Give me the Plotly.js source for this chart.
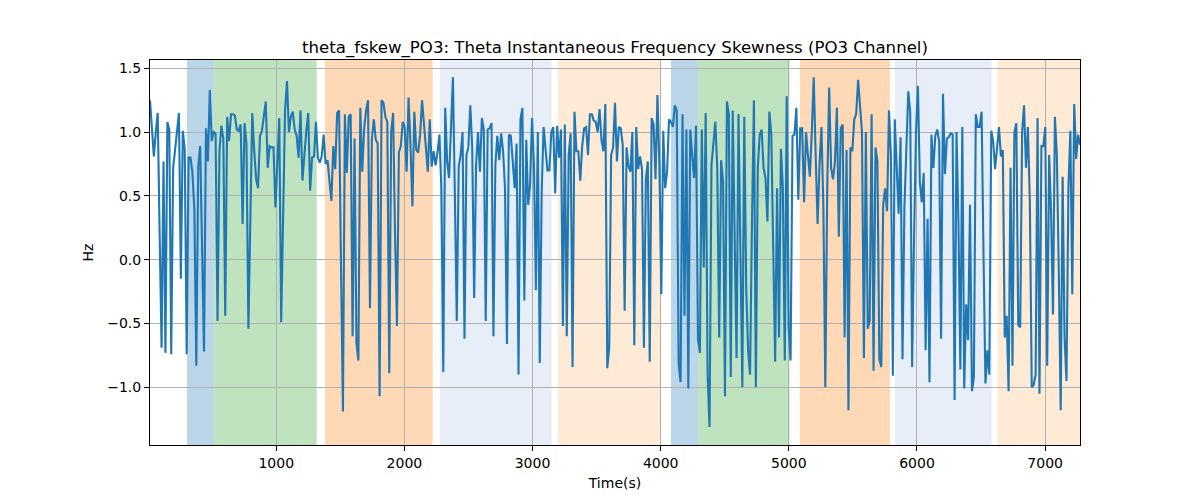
<!DOCTYPE html>
<html>
<head>
<meta charset="utf-8">
<script src="https://cdn.plot.ly/plotly-3.0.1.min.js"></script>
<style>html,body{margin:0;padding:0;background:#fff;}#chart{width:1200px;height:500px;}</style>
</head>
<body>
<div id="chart"></div>
<script>
// Skewness values (Hz), read left to right in consecutive chunks
const skewPart1 = [1.25,1.0,0.81,1.0,1.15,0.2,-0.69,0.77,-0.73,1.08,1.02,-0.74,0.72,0.86,1.0,1.15,-0.15,1.01,0.87,-0.74,0.80,0.80,0.68,0.39,-0.83,0.73,0.89,0.1,-0.72,1.03,0.77,1.33,0.93,1.0,0.99,-0.48,0.85,1.05];
const skewPart2 = [0.95,-0.44,1.12,0.93,1.14,1.14,1.13,1.02,1.01,1.06,0.28,1.07,0.91,-0.54,0.3,1.15,0.86,0.63,0.56,0.97,1.01,1.14,1.24,0.72,0.89,0.88,0.88,0.41,0.75,1.11,-0.49,0.4,1.17,1.40];
const skewPart3 = [1.0,1.12,1.16,1.02,0.97,0.80,1.17,0.62,0.86,1.01,1.15,0.54,0.80,0.81,1.08,0.80,0.76,0.81,0.98,0.75,0.78,0.63,0.46,0.89,0.71,1.15,1.17,-0.05,-1.19,1.14,0.68,1.12,1.14,-0.60,0.95,-0.65,-0.79];
const skewPart4 = [1.19,0.69,1.03,1.17,1.25,-0.38,0.95,1.10,0.94,0.91,-1.07,1.25,1.23,1.12,1.08,-0.89,1.0,1.15,0.20,-0.52,0.84,0.89,1.08,1.04,0.69,1.27,0.90,0.42,1.16,0.86,0.84,0.98,1.25,1.08,0.85,0.69,1.10,0.73,0.85,0.74,0.84,0.98,0.56,-0.88,1.19,0.77,0.64,1.0,1.43,0.51,-0.48,0.73,0.82,1.0,-0.62];
const skewPart5 = [0.82,0.88,1.21,0.88,-0.30,0.74,1.0,0.69,1.11,1.02,-0.48,1.02,1.03,1.07,-0.60,0.74,0.97,0.78,0.99,0.85,0.56,-0.66,0.98,0.97,0.77,0.56,0.91,-0.90,1.10,1.19,-0.32,0.94,0.43,0.59,1.11,0.74,-0.24,1.0,-0.81,0.53,1.04,0.88,0.70,0.70,1.0,1.04,0.52,1.05,0.80,1.02,-0.52,1.06,-0.60,0.82];
const skewPart6 = [0.99,-0.84,1.16,0.85,0.85,0.62,0.89,1.03,1.04,0.82,1.14,1.14,1.09,1.08,1.0,1.18,0.94,0.85,1.22,-0.85,-0.69,0.82,0.88,1.23,0.77,1.04,1.03,0.90,-0.40,0.88,0.73,0.69,1.0,-0.67,1.04,0.71,0.81,0.71,-0.69,0.63,0.77,-0.80,1.11,1.06,0.63,1.29,0.74,-0.27,1.01,0.56,0.69,1.10,1.08,1.04];
const skewPart7 = [1.21,1.17,-0.82,-0.96,1.14,-0.44,1.02,-1.01,1.02,0.82,0.64,1.05,-0.62,-0.73,1.02,-0.06,1.15,-0.90,-1.31,0.74,0.91,1.08,0.72,-0.61,0.78,0.61,-1.07,1.24,1.14,-0.92,1.17,0.07,-0.77,1.14,0.15,-1.0,1.12,-0.22,-0.71,-0.90,0.30,1.25,-1.0,0.72,0.98,1.02,0.72,0.64,0.30,1.16,0.98,-0.02,-0.80,0.56,-0.61];
const skewPart8 = [0.87,0.56,-0.79,1.28,-0.53,-0.79,0.97,0.98,1.19,0.47,1.03,1.03,0.45,1.0,0.82,0.65,1.0,1.43,0.82,0.28,0.74,1.04,0.41,-1.0,0.56,1.35,0.72,0.63,0.77,1.19,0.18,1.03,1.06,-0.61,0.86,-1.18,0.88,0.85,1.10,1.14,1.41,1.21,1.0,-0.77,1.0,-0.54,-0.48,1.14,-0.87,0.88,0.77,-0.78,-0.84,0.43];
const skewPart9 = [0.56,0.38,1.17,0.82,-0.91,1.10,0.74,0.36,0.96,-0.78,0.41,0.95,1.32,1.16,-0.84,0.17,1.0,1.36,0.61,0.45,0.68,-0.71,0.32,-0.96,0.98,0.72,0.97,1.02,0.93,-0.62,1.30,0.67,0.95,0.96,0.99,0.98,-1.10,1.0,0.30,-0.86,1.04,-1.01,-0.35,-0.63,0.43,-1.03,-0.92,1.14,1.04,1.04,1.16,0.03,-0.97,-0.71,-0.90];
const skewPart10 = [1.01,0.93,0.71,0.85,1.04,0.81,0.86,-0.61,-0.44,-1.03,0.72,-0.83,1.0,1.07,-0.51,-0.53,1.0,1.21,0.72,1.04,0.46,-1.0,-0.98,-0.90,1.11,-1.05,0.89,0.89,1.04,-0.83,0.82,0.38,-0.43,1.12,0.82,-0.09,-1.18,0.65,-0.61,-0.95,0.56,1.01,-0.27,1.22,0.79,0.98,0.90];

// Time span of the recording (s)
const timeFirst = 15;
const timeLast = 7272;

// Shaded periods (s) and their kind
const periodStart = [304, 512, 1380, 2278, 3198, 4080, 4293, 5086, 5828, 6629];
const periodEnd   = [512, 1316, 2221, 3149, 4003, 4293, 5005, 5789, 6582, 7272];
const periodKind  = ['blue', 'green', 'orange', 'lightblue', 'lightorange', 'blue', 'green', 'orange', 'lightblue', 'lightorange'];

// Axis ticks
const xTicks = [1000, 2000, 3000, 4000, 5000, 6000, 7000];
const yTicks = [-1.0, -0.5, 0.0, 0.5, 1.0, 1.5];

const values = [].concat(skewPart1, skewPart2, skewPart3, skewPart4, skewPart5,
                         skewPart6, skewPart7, skewPart8, skewPart9, skewPart10);
const stepT = (timeLast - timeFirst) / (values.length - 1);
const times = values.map((_, i) => timeFirst + i * stepT);

const kindColor = {
  blue: 'rgba(31,119,180,0.3)',
  green: 'rgba(44,160,44,0.3)',
  orange: 'rgba(255,127,14,0.3)',
  lightblue: 'rgba(174,199,232,0.3)',
  lightorange: 'rgba(255,187,120,0.3)'
};

const shapes = periodStart.map((s, i) => ({
  type: 'rect', xref: 'x', yref: 'paper',
  x0: s, x1: periodEnd[i], y0: 0, y1: 1,
  fillcolor: kindColor[periodKind[i]],
  line: {width: 0},
  layer: 'below'
}));

const trace = {
  x: times, y: values, type: 'scatter', mode: 'lines',
  line: {color: '#1f77b4', width: 2.1},
  hoverinfo: 'x+y'
};

const font = {family: 'DejaVu Sans, sans-serif', size: 14, color: '#000'};

const layout = {
  width: 1200, height: 500,
  margin: {l: 150, r: 120, t: 60, b: 55},
  paper_bgcolor: '#fff', plot_bgcolor: '#fff',
  font: font,
  showlegend: false,
  title: {
    text: 'theta_fskew_PO3: Theta Instantaneous Frequency Skewness (PO3 Channel)',
    font: {family: 'DejaVu Sans, sans-serif', size: 16.6, color: '#000'},
    x: 0.5, xref: 'paper', xanchor: 'center', y: 1, yref: 'paper', yanchor: 'bottom',
    pad: {b: 7}
  },
  xaxis: {
    range: [timeFirst, timeLast],
    tickvals: xTicks, ticktext: xTicks.map(String),
    ticks: 'outside', ticklen: 5, tickwidth: 1, tickcolor: '#000',
    showgrid: true, gridcolor: '#b0b0b0', gridwidth: 1,
    showline: true, linecolor: '#000', linewidth: 1, mirror: true,
    zeroline: false,
    tickfont: {family: 'DejaVu Sans, sans-serif', size: 14, color: '#000'},
    title: {text: 'Time(s)', font: {family: 'DejaVu Sans, sans-serif', size: 14, color: '#000'}, standoff: 8}
  },
  yaxis: {
    range: [-1.452, 1.565],
    tickvals: yTicks, ticktext: yTicks.map(v => v.toFixed(1).replace('-', '\u2212')),
    ticks: 'outside', ticklen: 5, tickwidth: 1, tickcolor: '#000',
    showgrid: true, gridcolor: '#b0b0b0', gridwidth: 1,
    showline: true, linecolor: '#000', linewidth: 1, mirror: true,
    zeroline: false,
    tickfont: {family: 'DejaVu Sans, sans-serif', size: 14, color: '#000'},
    title: {text: 'Hz', font: {family: 'DejaVu Sans, sans-serif', size: 14, color: '#000'}, standoff: 10}
  },
  shapes: shapes
};

Plotly.newPlot('chart', [trace], layout, {staticPlot: true, displayModeBar: false});
</script>
</body>
</html>
